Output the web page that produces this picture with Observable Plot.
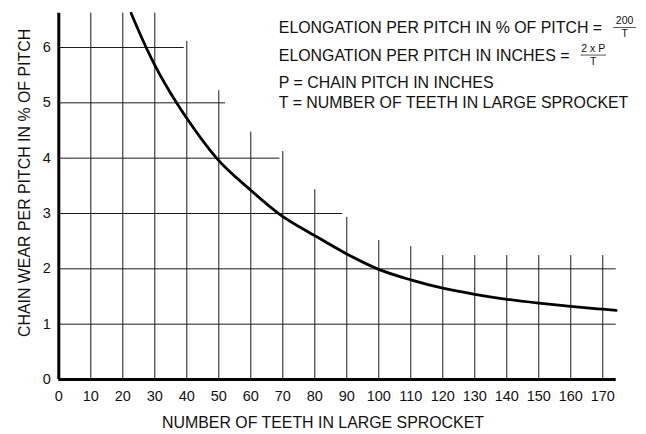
<!DOCTYPE html>
<html>
<head>
<meta charset="utf-8">
<script src="https://cdn.jsdelivr.net/npm/d3@7"></script>
<script src="https://cdn.jsdelivr.net/npm/@observablehq/plot@0.6"></script>
<style>
  html, body { margin: 0; padding: 0; background: #fff; }
  #chart { width: 646px; height: 434px; }
</style>
</head>
<body>
<div id="chart"></div>
<script>
// Tick labels
const xTicks = [0, 10, 20, 30, 40, 50, 60, 70, 80, 90, 100, 110, 120, 130, 140, 150, 160, 170];
const yTicks = [0, 1, 2, 3, 4, 5, 6];

// Vertical grid lines (teeth) and how high each one reaches (wear %)
const gridTeeth = [10, 20, 30, 40, 50, 60, 70, 80, 90, 100, 110, 120, 130, 140, 150, 160, 170];
const gridTop   = [6.62, 6.62, 6.62, 6.11, 5.22, 4.47, 4.12, 3.43, 2.93, 2.51, 2.40, 2.24, 2.24, 2.24, 2.24, 2.24, 2.24];

// Horizontal grid lines (wear %) and how far right each one reaches (teeth)
const gridWear  = [1, 2, 3, 4, 5, 6];
const gridRight = [174.2, 174.2, 88.7, 69.1, 52.1, 39.2];

// Curve
const curveTeeth = [22.6, 27.3, 30, 36.8, 40, 49.3, 60, 68.7, 80, 90, 100, 110, 120, 130, 140, 150, 160, 170, 174.2];
const curveWear  = [6.62, 6.0, 5.68, 5.0, 4.72, 4.0, 3.42, 3.0, 2.6, 2.27, 1.99, 1.80, 1.65, 1.54, 1.45, 1.38, 1.32, 1.27, 1.25];

// Texts
const xLabel = "NUMBER OF TEETH IN LARGE SPROCKET";
const yLabel = "CHAIN WEAR PER PITCH IN % OF PITCH";
const notes = [
  "ELONGATION PER PITCH IN % OF PITCH =",
  "ELONGATION PER PITCH IN INCHES =",
  "P = CHAIN PITCH IN INCHES",
  "T = NUMBER OF TEETH IN LARGE SPROCKET"
];
const fractions = [
  {num: "200", den: "T"},
  {num: "2 x P", den: "T"}
];

const vGrid = gridTeeth.map((t, i) => ({t, top: gridTop[i]}));
const hGrid = gridWear.map((w, i) => ({w, right: gridRight[i]}));
const curve = curveTeeth.map((t, i) => ({t, w: curveWear[i]}));

const font = "'Liberation Sans', Arial, Helvetica, sans-serif";
const noteDy = [9, 36.6, 64, 83.3];

const marks = [
  Plot.ruleX(vGrid, {x: "t", y1: 0, y2: "top", stroke: "#1a1a1a", strokeWidth: 1}),
  Plot.ruleY(hGrid, {y: "w", x1: 0, x2: "right", stroke: "#1a1a1a", strokeWidth: 1}),
  Plot.ruleX([0], {stroke: "#000", strokeWidth: 3}),
  Plot.ruleY([0], {stroke: "#000", strokeWidth: 3}),
  Plot.line(curve, {x: "t", y: "w", curve: "monotone-x", stroke: "#000", strokeWidth: 2.8}),
  Plot.text([xLabel], {text: d => d, frameAnchor: "bottom", textAnchor: "middle", dx: -14.5, dy: 43, lineAnchor: "middle", fontSize: 15.9, fill: "#111"}),
  Plot.text([yLabel], {text: d => d, frameAnchor: "left", textAnchor: "middle", rotate: -90, dx: -33.8, dy: -13.4, lineAnchor: "middle", fontSize: 15.9, fill: "#111"}),
  ...notes.map((n, i) => Plot.text([n], {text: d => d, frameAnchor: "top-left", textAnchor: "start", lineAnchor: "top", dx: 220, dy: noteDy[i], fontSize: 15.9, fill: "#111"}))
];

const chart = Plot.plot({
  width: 646,
  height: 434,
  marginLeft: 58.3,
  marginRight: 30.3,
  marginTop: 12.7,
  marginBottom: 55,
  style: {fontFamily: font, fontSize: "14.5px", color: "#111", background: "#fff", overflow: "visible"},
  x: {domain: [0, 174.2], ticks: xTicks, tickSize: 0, tickPadding: 11, label: null, tickFormat: d => String(d)},
  y: {domain: [0, 6.62], ticks: yTicks, tickSize: 0, tickPadding: 8, label: null, tickFormat: d => String(d)},
  marks
});

document.getElementById("chart").appendChild(chart);

// Fractions after lines 1 and 2
const svgNode = chart.tagName.toLowerCase() === "svg" ? chart : chart.querySelector("svg");
const svg = d3.select(svgNode);
const svgRect = svgNode.getBoundingClientRect();
const barWidths = [23, 25.6];
fractions.forEach((f, i) => {
  const t = svg.selectAll("text").filter(function () { return this.textContent === notes[i]; }).node();
  if (!t) return;
  const r = t.getBoundingClientRect();
  const x0 = r.right - svgRect.left + 11;
  const midY = (r.top + r.bottom) / 2 - svgRect.top;
  const barY = midY - 0.5;
  const w = barWidths[i];
  const g = svg.append("g").attr("font-family", font).attr("fill", "#111");
  g.append("line").attr("x1", x0).attr("x2", x0 + w).attr("y1", barY).attr("y2", barY)
    .attr("stroke", "#444").attr("stroke-width", 0.9);
  g.append("text").attr("x", x0 + w / 2).attr("y", barY - 3.2).attr("text-anchor", "middle")
    .attr("font-size", 10.5).text(f.num);
  g.append("text").attr("x", x0 + w / 2).attr("y", barY + 10).attr("text-anchor", "middle")
    .attr("font-size", 10.5).text(f.den);
});
</script>
</body>
</html>
